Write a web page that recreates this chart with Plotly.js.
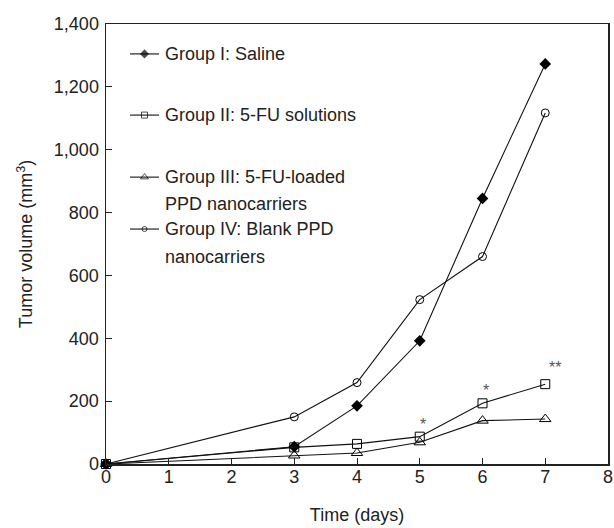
<!DOCTYPE html>
<html><head><meta charset="utf-8">
<script src="https://cdn.plot.ly/plotly-3.0.1.min.js"></script>
<style>html,body{margin:0;padding:0;background:#fff}#c{width:614px;height:528px}</style>
</head><body><div id="c"></div>
<script>
const days = [0, 3, 4, 5, 6, 7];
const saline = [0, 55, 185, 392, 845, 1273];
const fuSolution = [0, 53, 64, 87, 193, 254];
const fuNano = [0, 27, 35, 69, 138, 143];
const blankNano = [0, 150, 259, 523, 660, 1117];
const legendLines = [
  ["Group I: Saline"],
  ["Group II: 5-FU solutions"],
  ["Group III: 5-FU-loaded", "PPD nanocarriers"],
  ["Group IV: Blank PPD", "nanocarriers"]
];
const sigDays = [5.05, 6.05, 7.15];
const sigY = [125, 233, 306];
const sigText = ["*", "*", "**"];
const xTicks = [0,1,2,3,4,5,6,7,8];
const yTicks = [0,200,400,600,800,1000,1200,1400];
const yTickText = ["0","200","400","600","800","1,000","1,200","1,400"];

const seriesY = [saline, fuSolution, fuNano, blankNano];
const styles = [
  {symbol:'diamond', size:9, lsize:7, color:'#000', lw:0},
  {symbol:'square-open', size:9, lsize:6, color:'#000', lw:1},
  {symbol:'triangle-up-open', size:10, lsize:7, color:'#000', lw:1},
  {symbol:'circle-open', size:8, lsize:5, color:'#000', lw:1}
];
const traces = seriesY.map((y,i)=>({
  x: days, y: y, mode:'lines+markers', type:'scatter',
  line:{color:'#111', width:1.1},
  marker:{symbol:styles[i].symbol, size:styles[i].size, color:'#000', line:{color:'#000', width:styles[i].lw}},
  showlegend:false, hoverinfo:'skip', cliponaxis:false
}));

// manual legend (layout positions in paper units)
const legY = [0.932, 0.793, 0.652, 0.534];
const legY2 = [null, null, 0.591, 0.470];
const legX0 = 0.0478, legX1 = 0.1056, legXm = 0.0767, legTx = 0.1135;
legendLines.forEach((lines,i)=>{
  traces.push({
    x:[legX0, legXm, legX1], y:[legY[i], legY[i], legY[i]], xaxis:'x2', yaxis:'y2',
    mode:'lines+markers', type:'scatter', line:{color:'#111', width:1.1},
    marker:{symbol:styles[i].symbol, size:[0, styles[i].lsize, 0], color:'#000', line:{color:'#000', width:styles[i].lw}},
    showlegend:false, hoverinfo:'skip', cliponaxis:false
  });
});
const font = {family:'Liberation Sans, Arial, sans-serif', size:18, color:'#222'};
const annotations = [];
legendLines.forEach((lines,i)=>{
  annotations.push({xref:'paper', yref:'paper', x:legTx, y:legY[i], xanchor:'left', yanchor:'middle', text:lines[0], showarrow:false, font:font});
  if (lines[1]) annotations.push({xref:'paper', yref:'paper', x:legTx, y:legY2[i], xanchor:'left', yanchor:'middle', text:lines[1], showarrow:false, font:font});
});
sigDays.forEach((d,i)=>{
  annotations.push({x:d, y:sigY[i], xref:'x', yref:'y', text:sigText[i], showarrow:false, font:{family:font.family, size:16, color:'#555'}});
});

const layout = {
  width:614, height:528,
  margin:{l:106, r:6, t:24, b:64},
  paper_bgcolor:'#fff', plot_bgcolor:'#fff',
  font:font,
  xaxis:{range:[0,8], tickvals:xTicks, ticks:'inside', ticklen:6, tickwidth:1, tickcolor:'#222',
    showline:true, linecolor:'#222', linewidth:1.5, mirror:true, showgrid:false, zeroline:false,
    ticklabelstandoff:-4,
    title:{text:'Time (days)', font:font, standoff:22}, tickfont:font},
  yaxis:{range:[0,1400], tickvals:yTicks, ticktext:yTickText, ticks:'inside', ticklen:6, tickwidth:1, tickcolor:'#222',
    showline:true, linecolor:'#222', linewidth:1.5, mirror:true, showgrid:false, zeroline:false,
    ticklabelstandoff:2,
    title:{text:'Tumor volume (mm<sup>3</sup>)', font:font, standoff:16}, tickfont:font},
  xaxis2:{overlaying:'x', range:[0,1], visible:false, fixedrange:true},
  yaxis2:{overlaying:'y', range:[0,1], visible:false, fixedrange:true},
  annotations:annotations,
  showlegend:false
};
Plotly.newPlot('c', traces, layout, {displayModeBar:false, staticPlot:true});
</script></body></html>
